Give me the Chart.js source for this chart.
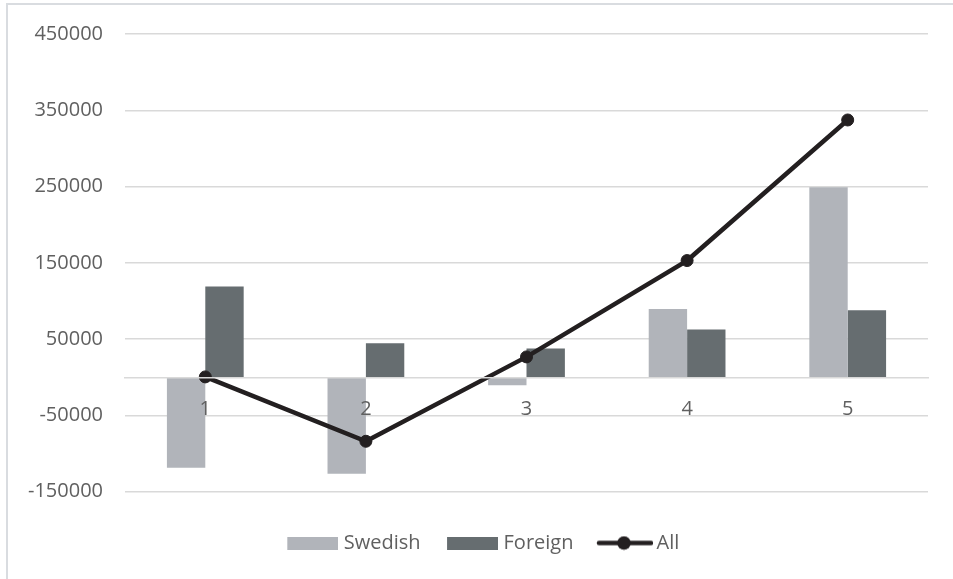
<!DOCTYPE html>
<html lang="en">
<head>
    <meta charset="UTF-8">
    <title>Swedish, Foreign and All</title>
    <script src="https://cdn.jsdelivr.net/npm/chart.js"></script>
    <style>
        html, body {
            margin: 0;
            padding: 0;
            background: #fff;
            overflow: hidden;
        }

        .frame {
            position: absolute;
            left: 6px;
            top: 3px;
            width: 980px;
            height: 600px;
            border-left: 2px solid #d9dce0;
            border-top: 2px solid #d9dce0;
        }

        #chartWrapper {
            position: absolute;
            left: 0;
            top: 0;
            width: 953px;
            height: 579px;
        }
    </style>
</head>
<body>
    <div class="frame"></div>
    <div id="chartWrapper">
        <canvas id="flowChart"></canvas>
    </div>

    <script>
        // values
        const categories = ['1', '2', '3', '4', '5'];
        const swedish = [-118700, -126600, -10500, 89600, 249000];
        const foreign = [118900, 44600, 37600, 62500, 87800];
        const all = [500, -83900, 26700, 153000, 337300];
        const yMin = -150000;
        const yMax = 450000;
        const yStep = 100000;

        const textColor = '#606060';
        const gridColor = '#d9d9d9';
        const font = { family: "'Open Sans', sans-serif", size: 20 };

        // little legend pictures: box or line with marker, drawn right-aligned
        function barSwatch(color) {
            const c = document.createElement('canvas');
            c.width = 60;
            c.height = 13;
            const g = c.getContext('2d');
            g.fillStyle = color;
            g.fillRect(9, 0, 51, 13);
            return c;
        }

        function lineSwatch(color) {
            const c = document.createElement('canvas');
            c.width = 64;
            c.height = 15;
            const g = c.getContext('2d');
            g.strokeStyle = color;
            g.lineWidth = 4.5;
            g.lineCap = 'round';
            g.beginPath();
            g.moveTo(10, 7.5);
            g.lineTo(62, 7.5);
            g.stroke();
            g.fillStyle = color;
            g.beginPath();
            g.arc(35, 7.5, 6.8, 0, Math.PI * 2);
            g.fill();
            return c;
        }

        const swatches = [barSwatch('#b1b4ba'), barSwatch('#666d70'), lineSwatch('#231f20')];

        // nudge the legend a bit to the right, like the original
        const legendShift = {
            id: 'legendShift',
            afterLayout(chart) {
                chart.legend.left += 14;
            }
        };

        const ctx = document.getElementById('flowChart').getContext('2d');
        new Chart(ctx, {
            type: 'bar',
            data: {
                labels: categories,
                datasets: [
                    {
                        label: 'Swedish',
                        data: swedish,
                        backgroundColor: '#b1b4ba',
                        categoryPercentage: 0.478,
                        barPercentage: 1,
                        order: 2
                    },
                    {
                        label: 'Foreign',
                        data: foreign,
                        backgroundColor: '#666d70',
                        categoryPercentage: 0.478,
                        barPercentage: 1,
                        order: 2
                    },
                    {
                        type: 'line',
                        label: 'All',
                        data: all,
                        borderColor: '#231f20',
                        backgroundColor: '#231f20',
                        borderWidth: 4.5,
                        pointRadius: 6,
                        pointBorderWidth: 1,
                        pointBackgroundColor: '#231f20',
                        pointBorderColor: '#231f20',
                        tension: 0,
                        order: 1
                    }
                ]
            },
            plugins: [legendShift],
            options: {
                responsive: true,
                maintainAspectRatio: false,
                animation: false,
                layout: {
                    padding: { left: 20, right: 25, top: 32, bottom: 16 }
                },
                scales: {
                    x: {
                        position: { y: 0 },
                        grid: { display: false, drawTicks: false },
                        border: { display: true, color: gridColor, width: 1.5, z: 1 },
                        // labels sit on top of the bars
                        ticks: { color: textColor, font: font, padding: 20, z: 1 }
                    },
                    y: {
                        min: yMin,
                        max: yMax,
                        grid: { color: gridColor, lineWidth: 1.5, drawTicks: false },
                        border: { display: false },
                        ticks: {
                            stepSize: yStep,
                            color: textColor,
                            font: font,
                            padding: 22,
                            callback: v => String(v)
                        },
                        afterFit: function (scale) {
                            scale.width = 105;
                        }
                    }
                },
                plugins: {
                    tooltip: { enabled: false },
                    legend: {
                        position: 'bottom',
                        // empty title used as the gap between plot and legend
                        title: { display: true, text: '', padding: 0, font: { size: 19.3, lineHeight: 1 } },
                        labels: {
                            usePointStyle: true,
                            pointStyleWidth: 51,
                            boxHeight: 13,
                            padding: 22,
                            color: textColor,
                            font: font,
                            generateLabels: chart => chart.data.datasets.map((ds, i) => ({
                                text: ds.label,
                                pointStyle: swatches[i],
                                fontColor: textColor,
                                fillStyle: 'transparent',
                                strokeStyle: 'transparent',
                                lineWidth: 0,
                                hidden: false,
                                datasetIndex: i
                            }))
                        }
                    }
                }
            }
        });
    </script>
</body>
</html>
